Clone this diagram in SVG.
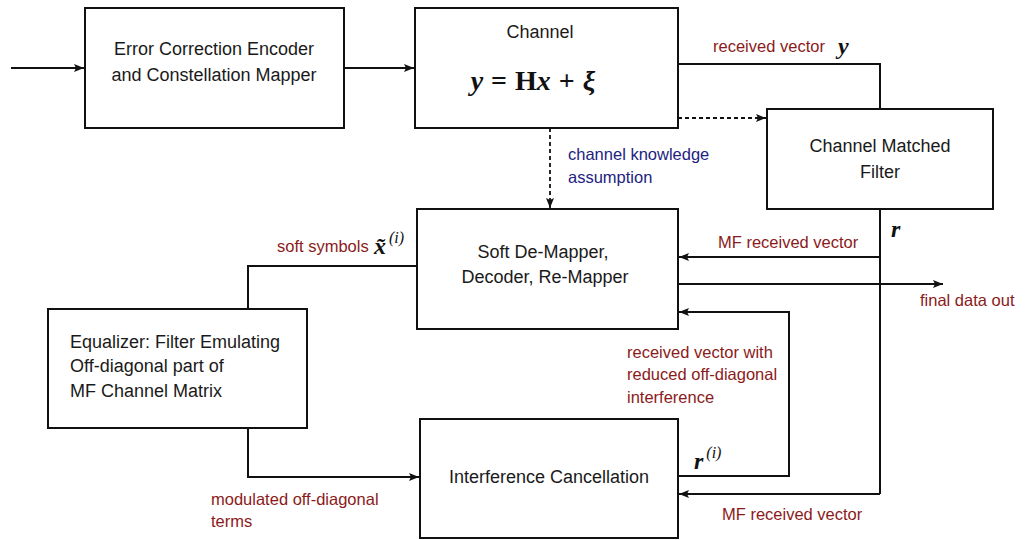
<svg xmlns="http://www.w3.org/2000/svg" width="1028" height="540" viewBox="0 0 1028 540">
  <defs>
    <marker id="arrow" viewBox="0 0 10 8" refX="10" refY="4" markerWidth="10" markerHeight="8" markerUnits="userSpaceOnUse" orient="auto">
      <path d="M0,0 L10,4 L0,8 L2,4 Z" fill="#111"/>
    </marker>
    <style>
      .box { fill: #fff; stroke: #111; stroke-width: 2; }
      .wire { fill: none; stroke: #111; stroke-width: 2; }
      .dash { fill: none; stroke: #111; stroke-width: 1.8; stroke-dasharray: 4 3; }
      .t { font-family: "Liberation Sans", Arial, sans-serif; font-size: 18px; fill: #1a1a1a; }
      .c { text-anchor: middle; }
      .red { font-family: "Liberation Sans", Arial, sans-serif; font-size: 16.5px; fill: #8b1a1a; }
      .blue { font-family: "Liberation Sans", Arial, sans-serif; font-size: 16.5px; fill: #23237f; }
      .m { font-family: "Liberation Serif", "DejaVu Serif", serif; font-weight: bold; font-style: italic; fill: #111; }
      .mu { font-family: "Liberation Serif", "DejaVu Serif", serif; font-weight: bold; fill: #111; }
      .sup { font-family: "Liberation Serif", "DejaVu Serif", serif; font-style: italic; font-size: 16px; fill: #111; }
    </style>
  </defs>

  <rect width="1028" height="540" fill="#fff"/>

  <!-- connectors -->
  <g id="connectors">
    <path class="wire" d="M11,68 H84" marker-end="url(#arrow)"/>
    <path class="wire" d="M344,68 H414" marker-end="url(#arrow)"/>
    <path class="wire" d="M678,64 H880 V109"/>
    <path class="dash" d="M678,118 H766" marker-end="url(#arrow)"/>
    <path class="dash" d="M550,128 V208" marker-end="url(#arrow)"/>
    <path class="wire" d="M880,209 V494"/>
    <path class="wire" d="M880,257 H679" marker-end="url(#arrow)"/>
    <path class="wire" d="M678,284 H943" marker-end="url(#arrow)"/>
    <path class="wire" d="M678,476 H789 V312 H679" marker-end="url(#arrow)"/>
    <path class="wire" d="M880,494 H679" marker-end="url(#arrow)"/>
    <path class="wire" d="M417,266 H248 V309"/>
    <path class="wire" d="M248,428 V477 H419" marker-end="url(#arrow)"/>
  </g>

  <!-- nodes -->
  <g id="encoder">
    <rect class="box" x="85" y="8" width="259" height="120"/>
    <text class="t c" x="214" y="55">Error Correction Encoder</text>
    <text class="t c" x="214" y="81">and Constellation Mapper</text>
  </g>

  <g id="channel">
    <rect class="box" x="415" y="8" width="263" height="120"/>
    <text class="t c" x="540" y="38">Channel</text>
    <text x="533" y="90" text-anchor="middle" font-size="28"><tspan class="m">y</tspan><tspan class="mu" dx="8">=</tspan><tspan class="mu" dx="8">H</tspan><tspan class="m">x</tspan><tspan class="mu" dx="8">+</tspan><tspan class="m" dx="8">ξ</tspan></text>
  </g>

  <g id="matched-filter">
    <rect class="box" x="767" y="109" width="226" height="100"/>
    <text class="t c" x="880" y="152">Channel Matched</text>
    <text class="t c" x="880" y="178">Filter</text>
  </g>

  <g id="demapper">
    <rect class="box" x="417" y="209" width="261" height="120"/>
    <text class="t c" x="543" y="258">Soft De-Mapper,</text>
    <text class="t c" x="545" y="283">Decoder, Re-Mapper</text>
  </g>

  <g id="equalizer">
    <rect class="box" x="48" y="309" width="259" height="119"/>
    <text class="t" x="70" y="348">Equalizer: Filter Emulating</text>
    <text class="t" x="70" y="372">Off-diagonal part of</text>
    <text class="t" x="70" y="397">MF Channel Matrix</text>
  </g>

  <g id="canceller">
    <rect class="box" x="420" y="419" width="258" height="119"/>
    <text class="t c" x="549" y="483">Interference Cancellation</text>
  </g>

  <!-- connector labels -->
  <g id="labels">
    <text class="red" x="713" y="52">received vector</text>
    <text class="m" x="838" y="54" font-size="24">y</text>

    <text class="blue" x="568" y="160">channel knowledge</text>
    <text class="blue" x="568" y="183">assumption</text>

    <text class="m" x="891" y="237" font-size="24">r</text>
    <text class="red" x="718" y="248">MF received vector</text>
    <text class="red" x="920" y="306">final data out</text>

    <text class="red" x="277" y="252">soft symbols</text>
    <text x="374" y="254" font-size="24"><tspan class="m">x&#x303;</tspan><tspan class="sup" dx="3" dy="-11">(i)</tspan></text>

    <text class="red" x="627" y="358">received vector with</text>
    <text class="red" x="627" y="380">reduced off-diagonal</text>
    <text class="red" x="627" y="403">interference</text>

    <text x="694" y="469" font-size="24"><tspan class="m">r</tspan><tspan class="sup" dx="3" dy="-11">(i)</tspan></text>

    <text class="red" x="211" y="505">modulated off-diagonal</text>
    <text class="red" x="211" y="527">terms</text>
    <text class="red" x="722" y="520">MF received vector</text>
  </g>
</svg>
